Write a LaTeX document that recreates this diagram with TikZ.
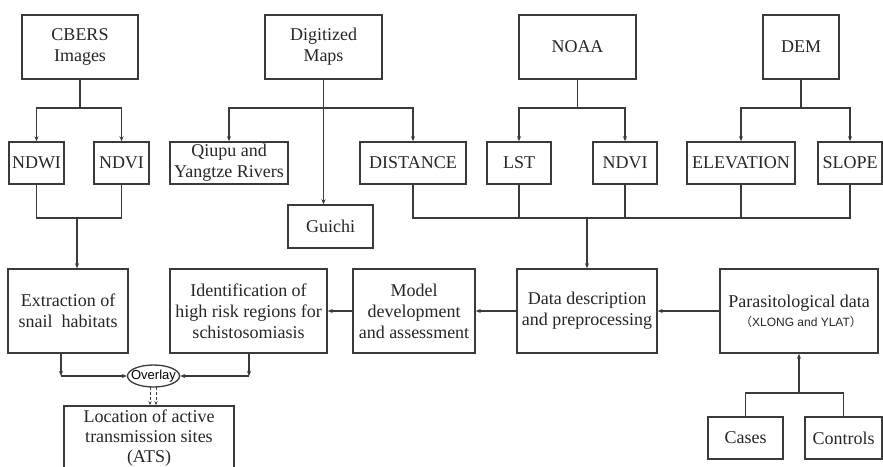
\documentclass[tikz,border=0pt]{standalone}
\usepackage{fontspec}
\setmainfont{Liberation Serif}
\setsansfont{Liberation Sans}
\newfontfamily\cjkparen{Noto Sans CJK SC}
\usetikzlibrary{arrows.meta,shapes.geometric}
\definecolor{ln}{HTML}{3A3A3A}
\tikzset{
  box/.style={draw=ln, line width=1.5pt, align=center, inner sep=1pt,
    font=\fontsize{18}{21}\selectfont, text=black!85},
  conn/.style={draw=ln, line width=1.3pt},
  arr/.style={conn, -{Stealth[length=5pt,width=4pt]}},
  dasharr/.style={draw=ln, line width=0.9pt, densely dashed, -{Stealth[length=4pt,width=3pt]}}
}
\begin{document}
\begin{tikzpicture}[x=1pt,y=-1pt]
\useasboundingbox (0,0) rectangle (883,466);
\clip (0,0) rectangle (883,466);
% top row
\node[box, minimum width=116pt, minimum height=64pt] (cbers) at (80,47) {CBERS\\Images};
\node[box, minimum width=117pt, minimum height=64pt] (dig) at (323.5,47) {Digitized\\Maps};
\node[box, minimum width=117pt, minimum height=64pt] (noaa) at (577.5,47) {NOAA};
\node[box, minimum width=76pt, minimum height=64pt] (dem) at (801,47) {DEM};
% second row
\node[box, minimum width=55pt, minimum height=42pt] (ndwi) at (36.5,163) {NDWI};
\node[box, minimum width=55pt, minimum height=42pt] (ndvia) at (121.5,163) {NDVI};
\node[box, minimum width=118pt, minimum height=42pt] (qiupu) at (229,163) {Qiupu and\\Yangtze Rivers};
\node[box, minimum width=106pt, minimum height=42pt] (dist) at (413,163) {DISTANCE};
\node[box, minimum width=64pt, minimum height=42pt] (lst) at (519,163) {LST};
\node[box, minimum width=64pt, minimum height=42pt] (ndvib) at (625,163) {NDVI};
\node[box, minimum width=108pt, minimum height=42pt] (elev) at (741,163) {ELEVATION};
\node[box, minimum width=64pt, minimum height=42pt] (slope) at (850,163) {SLOPE};
\node[box, minimum width=85pt, minimum height=43pt] (guichi) at (330.5,226.5) {Guichi};
% third row
\node[box, minimum width=120pt, minimum height=84pt] (extr) at (68,311) {Extraction of\\snail\ \ habitats};
\node[box, minimum width=157pt, minimum height=84pt] (ident) at (248.5,311) {Identification of\\high risk regions for\\schistosomiasis};
\node[box, minimum width=122pt, minimum height=84pt] (model) at (414,311) {Model\\development\\and assessment};
\node[box, minimum width=140pt, minimum height=84pt] (data) at (587,311) {Data description\\and preprocessing};
\node[box, minimum width=158pt, minimum height=84pt] (para) at (799,311) {Parasitological data\\[-2pt]{\sffamily\fontsize{12}{14}\selectfont\hspace{4pt}{\cjkparen （}XLONG and YLAT{\cjkparen ）}}};
% bottom
\node[box, minimum width=75pt, minimum height=42pt] (cases) at (745.5,438) {Cases};
\node[box, minimum width=77pt, minimum height=42pt] (ctrl) at (843.5,438) {Controls};
\node[draw=ln, line width=1.3pt, ellipse, inner xsep=-4pt, inner ysep=0pt, minimum height=22pt,
  font=\sffamily\fontsize{13}{15}\selectfont] (ovl) at (153.5,376) {Overlay};
\node[box, minimum width=170pt, minimum height=64pt, font=\fontsize{18}{20}\selectfont] (loc) at (149,438) {Location of active\\transmission sites\\(ATS)};
% connectors: top splits
\draw[conn] (cbers.south) -- (80,108) coordinate (s1);
\draw[arr] (s1) -| (ndwi.north);
\draw[arr] (s1) -| (ndvia.north);
\draw[conn] (dig.south) -- (323.5,108) coordinate (s2);
\draw[arr] (s2) -| (qiupu.north);
\draw[arr] (s2) -| (dist.north);
\draw[arr] (s2) -- (s2 |- guichi.north);
\draw[conn] (noaa.south) -- (577.5,108) coordinate (s3);
\draw[arr] (s3) -| (lst.north);
\draw[arr] (s3) -| (ndvib.north);
\draw[conn] (dem.south) -- (801,108) coordinate (s4);
\draw[arr] (s4) -| (elev.north);
\draw[arr] (s4) -| (slope.north);
% joins
\coordinate (j1) at (77,218);
\draw[conn] (ndwi.south) |- (j1) -| (ndvia.south);
\draw[arr] (j1) -- (j1 |- extr.north);
\coordinate (j2) at (587,218);
\draw[conn] (dist.south) |- (j2) -| (slope.south);
\draw[conn] (lst.south) -- (lst.south |- j2);
\draw[conn] (ndvib.south) -- (ndvib.south |- j2);
\draw[conn] (elev.south) -- (elev.south |- j2);
\draw[arr] (j2) -- (data.north);
% horizontal flow
\draw[arr] (para.west) -- (data.east);
\draw[arr] (data.west) -- (model.east);
\draw[arr] (model.west) -- (ident.east);
% cases / controls
\coordinate (j3) at (799,393);
\draw[conn] (cases.north) |- (j3) -| (ctrl.north);
\draw[arr] (j3) -- (para.south);
% overlay
\coordinate (o1) at (61,376);
\coordinate (o2) at (249,376);
\draw[arr] (o1 |- extr.south) -- (o1);
\draw[arr] (o1) -- (ovl.west);
\draw[arr] (o2 |- ident.south) -- (o2);
\draw[arr] (o2) -- (ovl.east);
\coordinate (d1) at (150,387);
\coordinate (d2) at (156,387);
\draw[dasharr] (d1) -- (d1 |- loc.north);
\draw[dasharr] (d2) -- (d2 |- loc.north);
\end{tikzpicture}
\end{document}
